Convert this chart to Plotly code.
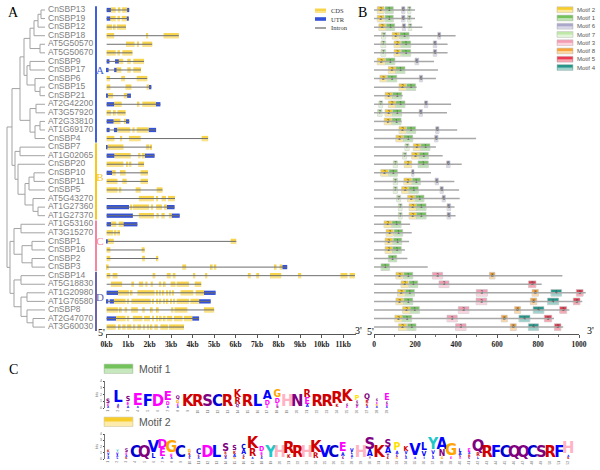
import plotly.graph_objects as go

# ---------------- data ----------------
gene_names = ["CnSBP13", "CnSBP19", "CnSBP12", "CnSBP18", "AT5G50570", "AT5G50670", "CnSBP9", "CnSBP17",
              "CnSBP6", "CnSBP15", "CnSBP21", "AT2G42200", "AT3G57920", "AT2G33810", "AT1G69170", "CnSBP4",
              "CnSBP7", "AT1G02065", "CnSBP20", "CnSBP10", "CnSBP11", "CnSBP5", "AT5G43270", "AT1G27360",
              "AT1G27370", "AT1G53160", "AT3G15270", "CnSBP1", "CnSBP16", "CnSBP2", "CnSBP3",
              "CnSBP14", "AT5G18830", "AT1G20980", "AT1G76580", "CnSBP8", "AT2G47070", "AT3G60030"]

# phylogenetic tree: (node depth, [children]); leaves are gene names
clade_A = (20, [(24, [(30, [(34, [(38, [(41, ["CnSBP13", "CnSBP19"]), "CnSBP12"]), "CnSBP18"]),
                            (40, ["AT5G50570", "AT5G50670"])]),
                      (27, [(30, ["CnSBP9", "CnSBP17"]), (35, ["CnSBP6", (40, ["CnSBP15", "CnSBP21"])])])]),
                (30, [(36, ["AT2G42200", "AT3G57920"]), (35, [(40, ["AT2G33810", "AT1G69170"]), "CnSBP4"])])])
clade_B = (15, [(20, ["CnSBP7", "AT1G02065"]),
                (18, ["CnSBP20", (25, [(29, [(34, ["CnSBP10", "CnSBP11"]), "CnSBP5"]),
                                       (33, ["AT5G43270", (38, ["AT1G27360", "AT1G27370"])])])])])
clade_C = (14, [(21, ["AT1G53160", "AT3G15270"]),
                (22, [(32, ["CnSBP1", "CnSBP16"]), (32, ["CnSBP2", "CnSBP3"])])])
clade_D = (14, [(21, ["CnSBP14", "AT5G18830"]),
                (21, [(27, ["AT1G20980", "AT1G76580"]), (27, ["CnSBP8", (33, ["AT2G47070", "AT3G60030"])])])])
tree = (7, [(12, [clade_A, clade_B]), (10, [clade_C, clade_D])])

clade_labels = ["A", "B", "C", "D"]
clade_first = [0, 16, 25, 31]
clade_last = [15, 24, 30, 37]
clade_colors = ["#3f5fdc", "#f7c81e", "#f4879f", "#6b64a8"]

# gene structures (kb): C = CDS, U = UTR, I = intron start marker
gene_segments = [
    [("U", 0, 0.2), ("C", 0.2, 0.42), ("C", 0.52, 0.64), ("C", 0.72, 0.95), ("U", 0.95, 1.05)],
    [("U", 0, 0.18), ("C", 0.18, 0.42), ("C", 0.5, 0.62), ("C", 0.7, 0.94), ("U", 0.94, 1.03)],
    [("C", 0, 0.25), ("C", 0.33, 0.42), ("C", 0.48, 0.9)],
    [("C", 0, 0.35), ("C", 1.83, 1.93), ("C", 2.65, 3.36)],
    [("I", 0, 0), ("C", 0.9, 1.3), ("C", 1.43, 1.5), ("C", 1.66, 2.12)],
    [("C", 0, 0.42), ("C", 0.5, 0.62), ("C", 0.73, 1.2)],
    [("U", 0, 0.13), ("U", 0.39, 0.57), ("C", 0.57, 0.77), ("C", 0.96, 1.12), ("C", 1.24, 1.74)],
    [("U", 0, 0.09), ("U", 0.35, 0.47), ("C", 0.47, 0.68), ("C", 0.96, 1.12), ("C", 1.24, 1.6)],
    [("C", 0, 0.15), ("C", 0.68, 0.85), ("C", 1.4, 1.89)],
    [("C", 0, 0.17), ("C", 0.88, 1.15), ("C", 1.86, 1.97), ("U", 1.97, 2.08)],
    [("U", 0, 0.06), ("C", 0.06, 0.3), ("C", 0.8, 0.95), ("U", 0.95, 1.13)],
    [("U", 0, 0.36), ("C", 0.36, 0.7), ("C", 1.43, 1.52), ("C", 1.66, 2.28), ("U", 2.28, 2.5)],
    [("C", 0, 0.2), ("C", 0.33, 0.42), ("C", 0.5, 0.88)],
    [("U", 0, 0.33), ("C", 0.33, 0.64), ("C", 0.83, 0.9), ("U", 0.9, 1.05)],
    [("U", 0, 0.14), ("U", 0.34, 0.5), ("C", 0.5, 1.1), ("C", 1.2, 1.3), ("C", 1.4, 1.95), ("U", 1.95, 2.3)],
    [("C", 0, 0.36), ("C", 0.62, 0.72), ("C", 1.04, 1.58), ("C", 4.42, 4.72)],
    [("U", 0, 0.04), ("C", 0.04, 0.78), ("C", 1.84, 1.98), ("C", 2.04, 2.09)],
    [("U", 0, 0.37), ("C", 0.37, 1.12), ("C", 1.47, 1.57), ("C", 1.64, 1.78), ("U", 1.78, 2.23)],
    [("C", 0, 0.78), ("C", 0.93, 1.0), ("C", 1.04, 1.15), ("C", 1.47, 1.74)],
    [("U", 0, 0.25), ("C", 0.25, 0.42), ("C", 0.62, 0.88), ("C", 1.58, 1.92)],
    [("C", 0, 0.5), ("C", 0.73, 0.93), ("C", 1.58, 1.92)],
    [("C", 0, 0.5), ("C", 0.6, 0.68), ("C", 1.35, 1.58), ("C", 2.33, 2.6)],
    [("I", 0, 0), ("C", 1.5, 2.2), ("C", 2.3, 2.37), ("C", 2.56, 2.76), ("C", 2.85, 3.18)],
    [("U", 0, 1.04), ("C", 1.1, 1.15), ("C", 1.22, 1.97), ("C", 2.07, 2.16), ("C", 2.3, 2.57),
     ("C", 2.67, 2.8), ("U", 2.8, 3.16)],
    [("U", 0, 1.22), ("C", 1.5, 2.2), ("C", 2.32, 2.42), ("C", 2.55, 2.7), ("C", 2.9, 3.02), ("U", 3.02, 3.4)],
    [("U", 0, 0.21), ("C", 0.21, 0.45), ("C", 0.56, 0.78), ("U", 0.78, 1.43)],
    [("C", 0, 0.3), ("C", 0.37, 0.45), ("C", 0.5, 0.62)],
    [("U", 0, 0.05), ("C", 0.05, 0.33), ("C", 5.77, 6.03)],
    [("C", 0, 0.17), ("C", 1.63, 1.77)],
    [("C", 0, 0.17), ("C", 1.65, 1.78), ("C", 2.33, 2.4)],
    [("C", 0, 0.09), ("C", 3.52, 3.7), ("C", 4.84, 4.93), ("C", 4.99, 5.1), ("C", 7.81, 7.9),
     ("C", 8.05, 8.17), ("U", 8.17, 8.4)],
    [("C", 0, 0.17), ("C", 0.28, 0.5), ("C", 2.14, 2.26), ("C", 2.8, 2.98), ("C", 3.08, 3.2), ("C", 4.02, 4.12),
     ("C", 4.58, 4.68), ("C", 6.57, 6.7), ("C", 6.96, 7.09), ("C", 7.6, 8.12), ("C", 8.9, 9.05),
     ("C", 10.88, 11.2), ("C", 11.3, 11.55)],
    [("I", 0, 0), ("C", 0.2, 0.72), ("C", 1.15, 1.27), ("C", 1.5, 1.7), ("C", 1.8, 1.9), ("C", 2.05, 2.15),
     ("C", 2.43, 2.54), ("C", 2.66, 2.74), ("C", 2.98, 3.2), ("C", 3.26, 3.83), ("C", 4.1, 4.4)],
    [("U", 0, 0.53), ("C", 0.53, 1.04), ("C", 1.12, 1.2), ("C", 1.43, 2.23), ("C", 2.33, 2.39), ("C", 2.47, 2.53),
     ("C", 2.62, 2.68), ("C", 2.78, 2.84), ("C", 2.93, 2.99), ("C", 3.06, 3.12), ("C", 3.44, 4.03),
     ("C", 4.14, 4.53), ("U", 4.53, 5.07)],
    [("U", 0, 0.08), ("U", 0.14, 0.34), ("C", 0.34, 0.88), ("C", 0.97, 1.03), ("C", 1.15, 2.05),
     ("C", 2.13, 2.2), ("C", 2.3, 2.37), ("C", 2.47, 2.54), ("C", 2.64, 2.71), ("C", 2.8, 2.87),
     ("C", 2.97, 3.04), ("C", 3.1, 3.17), ("C", 3.26, 3.83), ("C", 3.9, 4.3), ("U", 4.3, 4.84)],
    [("C", 0, 0.52), ("C", 0.62, 0.7), ("C", 0.84, 0.95), ("C", 1.14, 1.45), ("C", 1.66, 1.77),
     ("C", 2.05, 2.14), ("C", 2.33, 2.42), ("C", 3.0, 3.1), ("C", 3.16, 3.75), ("C", 4.53, 5.0)],
    [("U", 0, 0.44), ("C", 0.44, 0.88), ("C", 0.97, 1.05), ("C", 1.22, 1.66), ("C", 1.74, 2.02),
     ("C", 2.12, 2.2), ("C", 2.3, 2.38), ("C", 2.48, 2.56), ("C", 2.66, 2.74), ("C", 2.8, 3.05),
     ("C", 3.13, 3.53), ("C", 3.6, 3.98), ("U", 3.98, 4.3)],
    [("C", 0, 0.42), ("C", 0.57, 0.65), ("C", 0.73, 0.88), ("C", 0.95, 1.15), ("C", 1.25, 1.33),
     ("C", 1.43, 1.6), ("C", 1.7, 1.78), ("C", 1.88, 1.96), ("C", 2.05, 2.13), ("C", 2.22, 2.38),
     ("C", 2.5, 2.85), ("C", 2.9, 3.6)],
]
kb_ticks = list(range(12))
kb_labels = [f"{k}kb" for k in kb_ticks]

# conserved motifs (aa)
protein_lengths = [200, 200, 236, 398, 359, 359, 293, 312, 302, 208, 140, 376, 356, 135, 406, 498,
                   302, 335, 428, 278, 392, 415, 418, 393, 398, 176, 184, 171, 151, 163, 262,
                   919, 818, 1033, 1016, 953, 878, 923]
motif_hits = [
    [(2, 16, 49), (1, 54, 94), (6, 135, 151), (7, 164, 180)],
    [(2, 16, 49), (1, 54, 94), (6, 135, 151), (7, 164, 180)],
    [(2, 24, 57), (1, 60, 101), (6, 138, 154), (7, 167, 184)],
    [(7, 37, 57), (2, 89, 124), (1, 127, 171), (6, 311, 325)],
    [(7, 34, 57), (2, 98, 130), (1, 133, 179), (6, 289, 306)],
    [(7, 34, 57), (2, 98, 130), (1, 133, 179), (6, 289, 306)],
    [(2, 16, 55), (1, 57, 102), (6, 200, 218)],
    [(2, 70, 106), (1, 107, 151)],
    [(2, 29, 62), (1, 65, 111), (6, 221, 237)],
    [(2, 122, 156), (1, 159, 203)],
    [(2, 54, 89), (1, 91, 135)],
    [(7, 24, 42), (2, 70, 106), (1, 107, 151), (6, 246, 262)],
    [(7, 18, 39), (2, 54, 89), (1, 91, 135), (6, 220, 236)],
    [(2, 50, 86), (1, 88, 132)],
    [(2, 122, 156), (1, 159, 203), (6, 301, 317)],
    [(2, 107, 143), (1, 145, 189), (6, 296, 312)],
    [(7, 151, 171), (2, 192, 228), (1, 229, 273)],
    [(7, 140, 159), (2, 184, 220), (1, 221, 265)],
    [(7, 94, 114), (2, 148, 184), (1, 215, 265), (6, 354, 371)],
    [(2, 33, 70), (1, 73, 114), (6, 184, 195)],
    [(7, 94, 114), (2, 146, 184), (1, 187, 226), (6, 298, 314)],
    [(7, 94, 114), (2, 135, 171), (1, 171, 216), (6, 322, 338)],
    [(7, 111, 130), (2, 164, 200), (1, 202, 244), (6, 332, 348)],
    [(7, 119, 137), (2, 171, 208), (1, 208, 254), (6, 356, 374)],
    [(7, 119, 137), (2, 171, 208), (1, 208, 254), (6, 356, 374)],
    [(2, 49, 86), (1, 88, 132)],
    [(2, 59, 94), (1, 98, 140)],
    [(2, 54, 91), (1, 94, 135)],
    [(2, 54, 89), (1, 91, 133)],
    [(1, 70, 111)],
    [(1, 34, 75)],
    [(2, 107, 143), (1, 146, 189), (3, 285, 335), (8, 563, 590)],
    [(2, 132, 167), (1, 171, 213), (3, 317, 366), (5, 754, 790)],
    [(2, 115, 151), (1, 153, 197), (3, 499, 553), (8, 771, 802), (4, 863, 915), (5, 987, 1020)],
    [(2, 107, 143), (1, 146, 189), (3, 498, 550), (8, 763, 794), (4, 846, 901), (5, 972, 1005)],
    [(2, 140, 176), (1, 177, 221), (3, 411, 463), (8, 686, 715), (4, 776, 829), (5, 906, 940)],
    [(2, 102, 138), (1, 138, 184), (3, 356, 406), (8, 621, 650), (4, 707, 761), (5, 831, 867)],
    [(2, 120, 159), (1, 163, 205), (3, 398, 449), (8, 665, 694), (4, 753, 803), (5, 880, 912)],
]
motif_legend_order = [2, 1, 6, 7, 3, 8, 5, 4]
motif_colors = {1: "#74c25c", 2: "#f7cd2c", 3: "#f59bb3", 4: "#25978a",
                5: "#ec3a52", 6: "#aaa7ca", 7: "#bfe8a9", 8: "#f7a53b"}
aa_ruler_ticks = [0, 200, 400, 600, 800, 1000]

# sequence logos: each column lists letters top -> bottom with information content (bits)
motif1_logo = ["S0.7 E0.4 A0.3", "L2.8 A0.3 Q0.3", "S0.8 E0.5 A0.4", "E3.2 A0.2", "F3.5", "D3.4",
               "E1.5 D0.6 A0.3", "Q0.6 G0.5 E0.4 A0.3", "K3.5", "R3.6", "S3.6", "C3.8", "R3.2",
               "K1.2 R1.0 Q0.5", "R3.4", "L3.6", "A1.5 D0.8 E0.4", "G1.2 D0.8 E0.4 N0.3", "H3.8", "N3.8",
               "R1.2 E1.0 A0.5", "R3.6", "R3.6", "R3.0 K0.5", "K1.8 S0.4 E0.3", "P0.8 S0.4 Q0.4 E0.3",
               "Q0.9 R0.5 K0.4 A0.3", "S0.4 E0.3 G0.3 A0.3", "E1.0 S0.4 D0.3 A0.3"]
motif2_logo = ["K0.4 V0.4 L0.3 A0.3", "Y0.4 V0.4 A0.3 L0.3", "S0.6 E0.4 A0.3 K0.3", "C4.0", "Q3.6",
               "V2.8 L0.8", "D1.5 E1.2 A0.3", "G2.2 E0.5 A0.3", "C4.0", "G0.5 K0.4 A0.3 S0.3",
               "C0.9 S0.4 A0.3", "D3.4", "L3.4", "S1.2 R0.4 Q0.4 A0.3", "S0.8 K0.5 A0.5 G0.3",
               "C0.8 A0.8 S0.4 K0.3", "K2.2 R1.2 A0.3", "D0.8 E0.5 S0.3 A0.3", "Y3.6", "H3.6",
               "R3.2 K0.6", "R3.4", "H3.8", "K2.6 R0.9", "V3.6", "C3.8", "E1.4 A0.6 S0.4",
               "V0.6 L0.4 A0.4 I0.3", "H3.8", "S2.2 A1.0 T0.3", "K3.6", "S1.2 A1.0 T0.5 K0.3",
               "P1.2 A0.5 S0.4 G0.3", "K0.8 V0.5 L0.4 A0.3", "V3.2 A0.3", "L1.2 V0.8 I0.4",
               "Y1.8 V0.6 L0.4 A0.3", "A1.8 N1.0 G0.4", "G3.2 E0.4", "L0.6 A0.5 S0.3 E0.3",
               "E0.6 A0.4 R0.4 S0.3", "Q2.0 R0.6 L0.4", "R3.8", "F3.6", "C3.8", "Q3.8", "Q3.8", "C3.8",
               "S3.6", "R3.6", "F3.6", "H3.2 A0.3 K0.3"]
aa_colors = {"R": "#d10000", "K": "#d10000", "H": "#ffb3c3", "D": "#ff00ff", "E": "#ff00ff",
             "S": "#800080", "T": "#800080", "N": "#800080", "Q": "#800080", "C": "#0000d0",
             "A": "#0000ff", "V": "#0000ff", "L": "#0000ff", "I": "#0000ff", "M": "#0000ff",
             "F": "#0000ff", "W": "#0000ff", "G": "#ffa500", "P": "#ffe000", "Y": "#1fc8c8"}

# ---------------- geometry helpers ----------------
W, H = 600, 470
ROW0, ROWH = 10.0, 8.57   # pixel y of first row, row spacing
n = len(gene_names)
rows = list(range(n))
row_of = {g: i for i, g in enumerate(gene_names)}
LEAF_X = 45
AXIS_Y_PX = 334


def fx(px):
    return px / W


def fy(py):
    return 1 - py / H


fig = go.Figure()
NOHOVER = dict(hoverinfo="skip", showlegend=False)

# ---------------- tree ----------------
tx, ty = [], []


def draw(node):
    if isinstance(node, str):
        return LEAF_X, row_of[node]
    x, kids = node
    pts = [draw(k) for k in kids]
    ys = [p[1] for p in pts]
    tx.extend([x, x, None]); ty.extend([min(ys), max(ys), None])
    for cx, cy in pts:
        tx.extend([x, cx, None]); ty.extend([cy, cy, None])
    return x, (min(ys) + max(ys)) / 2


draw(tree)
fig.add_trace(go.Scatter(x=tx, y=ty, mode="lines", line=dict(color="#a3a3a3", width=1),
                         xaxis="x", yaxis="y", **NOHOVER))
fig.add_trace(go.Scatter(x=[48] * n, y=rows, mode="text", text=gene_names, textposition="middle right",
                         textfont=dict(family="Liberation Sans, Arial", size=8.5, color="#808080"),
                         xaxis="x", yaxis="y", cliponaxis=False, **NOHOVER))
for lab, a, b, col in zip(clade_labels, clade_first, clade_last, clade_colors):
    fig.add_trace(go.Scatter(x=[96, 96], y=[a - 0.45, b + 0.45], mode="lines", line=dict(color=col, width=2),
                             xaxis="x", yaxis="y", **NOHOVER))
    fig.add_trace(go.Scatter(x=[100], y=[(a + b) / 2 - 0.4], mode="text", text=[lab],
                             textfont=dict(family="Liberation Serif, Times New Roman", size=11, color=col),
                             xaxis="x", yaxis="y", cliponaxis=False, **NOHOVER))

# ---------------- gene structure ----------------
ix, iy = [], []
seg = {"C": ([], [], []), "U": ([], [], [])}
for r, segs in enumerate(gene_segments):
    lo = min(s[1] for s in segs); hi = max(s[2] for s in segs)
    ix.extend([lo, hi, None]); iy.extend([r, r, None])
    for t, s0, s1 in segs:
        if t in seg:
            seg[t][0].append(r); seg[t][1].append(s0); seg[t][2].append(s1 - s0)
fig.add_trace(go.Scatter(x=ix, y=iy, mode="lines", line=dict(color="#6e6e6e", width=1),
                         xaxis="x2", yaxis="y", **NOHOVER))
for t, col, wd in [("U", "#3452d6", 0.5), ("C", "#f8d44a", 0.62)]:
    yy, bb, ll = seg[t]
    fig.add_trace(go.Bar(orientation="h", y=yy, x=ll, base=bb, width=wd, marker=dict(color=col, line=dict(width=0)),
                         xaxis="x2", yaxis="y", **NOHOVER))
    if t == "C":
        fig.add_trace(go.Bar(orientation="h", y=[v + 0.16 for v in yy], x=ll, base=bb, width=0.3,
                             marker=dict(color="rgba(255,255,255,0.35)", line=dict(width=0)),
                             xaxis="x2", yaxis="y", **NOHOVER))

# ---------------- motif panel ----------------
px_, py_ = [], []
for r, L in enumerate(protein_lengths):
    px_.extend([0, L, None]); py_.extend([r, r, None])
fig.add_trace(go.Scatter(x=px_, y=py_, mode="lines", line=dict(color="#a8a8a8", width=1.5),
                         xaxis="x3", yaxis="y", **NOHOVER))
mt_x, mt_y, mt_t = [], [], []
for m in motif_legend_order:
    yy, bb, ll = [], [], []
    for r, hits in enumerate(motif_hits):
        for mid, s0, s1 in hits:
            if mid == m:
                yy.append(r); bb.append(s0); ll.append(s1 - s0)
                mt_x.append((s0 + s1) / 2); mt_y.append(r); mt_t.append(str(m))
    fig.add_trace(go.Bar(orientation="h", y=yy, x=ll, base=bb, width=0.78,
                         marker=dict(color=motif_colors[m], line=dict(color="#c4c4c4", width=0.6)),
                         xaxis="x3", yaxis="y", **NOHOVER))
    fig.add_trace(go.Bar(orientation="h", y=[v + 0.2 for v in yy], x=ll, base=bb, width=0.36,
                         marker=dict(color="rgba(255,255,255,0.55)", line=dict(width=0)),
                         xaxis="x3", yaxis="y", **NOHOVER))
fig.add_trace(go.Scatter(x=mt_x, y=mt_y, mode="text", text=mt_t,
                         textfont=dict(family="Liberation Sans, Arial", size=4.5, color="#555555"),
                         xaxis="x3", yaxis="y", **NOHOVER))
# ruler trace for aa axis (invisible markers at ticks)
fig.add_trace(go.Scatter(x=aa_ruler_ticks, y=[37.8] * len(aa_ruler_ticks), mode="markers",
                         marker=dict(size=1, opacity=0), xaxis="x6", yaxis="y", **NOHOVER))

# ---------------- sequence logos ----------------
def logo_trace(cols, xa, ya, px_per_bit):
    xs, ys, ts, sz, cl = [], [], [], [], []
    for i, col in enumerate(cols):
        toks = col.split()[::-1]
        base = 0.0
        for tok in toks:
            let, h = tok[0], float(tok[1:])
            s = max(3.0, min(8.7 * h, 16.5))
            vis = min(h, 0.72 * s / px_per_bit)
            xs.append(i + 1); ys.append(base + vis / 2); ts.append(let); sz.append(s)
            cl.append(aa_colors.get(let, "#333333"))
            base += vis
    return go.Scatter(x=xs, y=ys, mode="text", text=ts, cliponaxis=False,
                      textfont=dict(family="Liberation Sans Narrow, DejaVu Sans Condensed, Arial Narrow, Liberation Sans",
                                    size=sz, color=cl, weight="bold"),
                      xaxis=xa, yaxis=ya, **NOHOVER)


fig.add_trace(logo_trace(motif1_logo, "x4", "y4", 26 / 4))
fig.add_trace(logo_trace(motif2_logo, "x5", "y5", 25 / 4))

# ---------------- layout ----------------
tickf = dict(family="Liberation Serif, Times New Roman", size=7.5, color="#222222", weight="bold")
small = dict(family="Liberation Sans, Arial", size=3.5, color="#666666")
fig.update_layout(
    width=W, height=H, margin=dict(l=0, r=0, t=0, b=0, autoexpand=False),
    paper_bgcolor="white", plot_bgcolor="rgba(0,0,0,0)",
    showlegend=False, barmode="overlay",
    yaxis=dict(domain=[0, 1], range=[(H - ROW0) / ROWH, -ROW0 / ROWH], visible=False, anchor="x"),
    xaxis=dict(domain=[0, fx(100)], range=[0, 100], visible=False, anchor="y"),
    xaxis2=dict(domain=[fx(106), fx(356)], range=[-0.03, 11.6], anchor="free", position=fy(AXIS_Y_PX),
                showline=True, linecolor="#555555", linewidth=1, ticks="outside", ticklen=3, tickcolor="#555555",
                tickvals=kb_ticks, ticktext=kb_labels, tickfont=tickf, showgrid=False, zeroline=False),
    xaxis3=dict(domain=[fx(360), 1], range=[(360 - 374) / 0.205, (600 - 374) / 0.205], visible=False, anchor="y"),
    xaxis6=dict(domain=[fx(374), fx(579)], range=[0, 1000], anchor="free", position=fy(AXIS_Y_PX),
                showline=True, linecolor="#555555", linewidth=1, ticks="outside", ticklen=3, tickcolor="#555555",
                tickvals=aa_ruler_ticks, tickfont=tickf, showgrid=False, zeroline=False,
                minor=dict(ticks="outside", ticklen=2, dtick=100, tickcolor="#777777")),
    xaxis4=dict(domain=[fx(100), fx(400)], range=[1 + (100 - 108) / 9.96, 1 + (400 - 108) / 9.96], anchor="y4",
                tickvals=list(range(1, len(motif1_logo) + 1)), tickfont=small, tickangle=-90,
                showgrid=False, zeroline=False, showline=False, ticks=""),
    yaxis4=dict(domain=[fy(408), fy(381)], range=[0, 4], anchor="free", position=fx(104),
                showline=True, linecolor="#777777", linewidth=0.5, ticks="outside", ticklen=1.5,
                tickvals=[0, 1, 2, 3, 4], tickfont=small, showgrid=False, zeroline=False,
                title=dict(text="bits", font=small, standoff=0)),
    xaxis5=dict(domain=[fx(100), fx(580)], range=[1 + (100 - 108.3) / 9.02, 1 + (580 - 108.3) / 9.02], anchor="y5",
                tickvals=list(range(1, len(motif2_logo) + 1)), tickfont=small, tickangle=-90,
                showgrid=False, zeroline=False, showline=False, ticks=""),
    yaxis5=dict(domain=[fy(459), fy(434)], range=[0, 4], anchor="free", position=fx(104),
                showline=True, linecolor="#777777", linewidth=0.5, ticks="outside", ticklen=1.5,
                tickvals=[0, 1, 2, 3, 4], tickfont=small, showgrid=False, zeroline=False,
                title=dict(text="bits", font=small, standoff=0)),
)

shapes, annos = [], []
serif = "Liberation Serif, Times New Roman"


def ann(x, y, text, size, color="#000000", family=serif, xanchor="center"):
    annos.append(dict(x=fx(x), y=fy(y), xref="paper", yref="paper", text=text, showarrow=False,
                      xanchor=xanchor, yanchor="middle", font=dict(family=family, size=size, color=color)))


def rect(x0, y0, x1, y1, color, line="rgba(0,0,0,0)", lw=0):
    shapes.append(dict(type="rect", xref="paper", yref="paper", x0=fx(x0), x1=fx(x1), y0=fy(y1), y1=fy(y0),
                       fillcolor=color, line=dict(color=line, width=lw), layer="above"))


# panel letters
ann(13, 13, "A", 14); ann(362, 13, "B", 14); ann(13, 369, "C", 14)
# 5'/3' labels
ann(101, 332, "5'", 10); ann(358, 330, "3'", 10); ann(370, 331, "5'", 10); ann(590, 330, "3'", 10)

# gene-structure legend
rect(315, 8.5, 326, 13, "#f8d44a"); rect(315, 11, 326, 13, "rgba(255,255,255,0.35)")
rect(315, 17.2, 326, 20.8, "#3452d6")
shapes.append(dict(type="line", xref="paper", yref="paper", x0=fx(315), x1=fx(326), y0=fy(28), y1=fy(28),
                   line=dict(color="#444444", width=1)))
for yy, tt in [(10.8, "CDS"), (19, "UTR"), (28, "Intron")]:
    ann(329, yy, tt, 6.5, "#333333", serif, "left")

# motif legend
for i, m in enumerate(motif_legend_order):
    y0 = 6.8 + i * 8.25
    rect(557, y0, 573, y0 + 5.8, motif_colors[m], "#c4c4c4", 0.6)
    rect(557.5, y0 + 3, 572.5, y0 + 5.5, "rgba(255,255,255,0.55)")
    ann(575, y0 + 3, f"Motif {m}", 6, "#555555", "Liberation Sans, Arial", "left")

# panel C legend boxes
rect(104, 364, 133, 373.5, "#74c25c", "#d0d0d0", 0.6); rect(104.5, 368.5, 132.5, 373, "rgba(255,255,255,0.6)")
ann(137, 368.5, "Motif 1", 10.5, "#555555", "Liberation Sans, Arial", "left")
rect(104, 417, 133, 426.5, "#f7cd2c", "#d0d0d0", 0.6); rect(104.5, 421.5, 132.5, 426, "rgba(255,255,255,0.6)")
ann(137, 421.5, "Motif 2", 10.5, "#555555", "Liberation Sans, Arial", "left")

fig.update_layout(shapes=shapes, annotations=annos)
fig.write_html("out.html", config={"displayModeBar": False},
               post_script="document.body.style.margin='0px';")
